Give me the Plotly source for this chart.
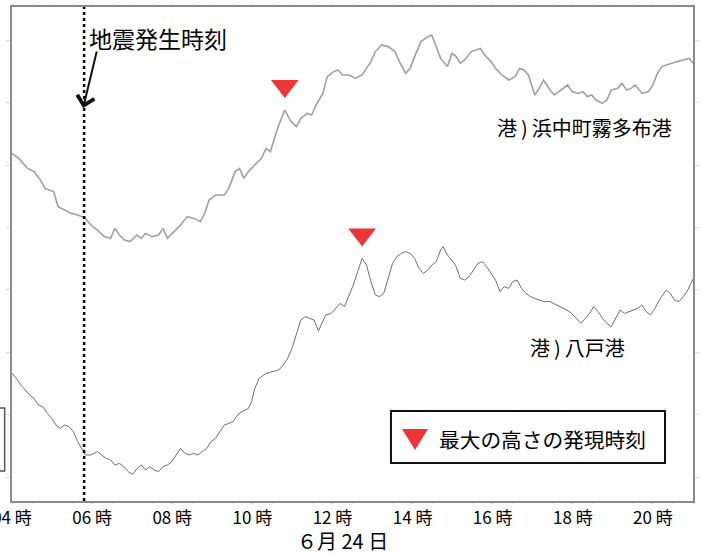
import numpy as np
import plotly.graph_objects as go

FONT = "Noto Sans CJK JP"

# Hours of 24 June (decimal) and tide level for each gauge
kiritappu_t = [4.00, 4.17, 4.39, 4.55, 4.71, 4.82, 4.93, 5.04, 5.15, 5.31,
               5.48, 5.64, 5.81, 5.97, 6.13, 6.30, 6.46, 6.57, 6.68, 6.81,
               6.95, 7.12, 7.23, 7.33, 7.50, 7.66, 7.77, 7.88, 8.04, 8.21,
               8.37, 8.54, 8.70, 8.81, 8.92, 9.08, 9.30, 9.41, 9.57, 9.68,
               9.79, 9.90, 10.06, 10.23, 10.34, 10.45, 10.55, 10.66, 10.81, 10.94,
               11.10, 11.21, 11.37, 11.48, 11.59, 11.76, 11.87, 12.03, 12.14, 12.25,
               12.41, 12.57, 12.74, 12.85, 12.96, 13.07, 13.23, 13.39, 13.56, 13.67,
               13.83, 13.94, 14.05, 14.21, 14.38, 14.48, 14.59, 14.70, 14.87, 14.98,
               15.09, 15.19, 15.30, 15.47, 15.69, 15.80, 15.96, 16.07, 16.23, 16.40,
               16.56, 16.67, 16.78, 16.89, 17.05, 17.16, 17.27, 17.43, 17.54, 17.71,
               17.87, 17.98, 18.14, 18.25, 18.36, 18.47, 18.58, 18.74, 18.85, 18.96,
               19.12, 19.23, 19.34, 19.45, 19.56, 19.73, 19.89, 20.00, 20.11, 20.22,
               20.43, 20.60, 20.76, 20.90, 21.00]
kiritappu_level = [173.8, 171.3, 166.3, 164.7, 160.5, 156.3, 155.5, 154.7, 147.2, 145.5,
                   143.8, 143.0, 141.7, 138.0, 135.5, 132.2, 131.3, 136.3, 133.0, 130.5,
                   129.7, 133.0, 131.3, 133.8, 132.2, 133.0, 136.3, 131.3, 134.7, 138.0,
                   142.2, 141.3, 139.7, 143.8, 150.5, 153.0, 153.0, 156.3, 164.7, 166.3,
                   161.3, 164.7, 168.0, 171.3, 176.3, 174.7, 181.3, 188.0, 195.5, 190.5,
                   187.2, 191.3, 193.8, 193.0, 198.0, 203.8, 212.2, 214.7, 215.5, 213.0,
                   213.0, 211.3, 213.0, 216.3, 219.7, 224.7, 228.0, 227.2, 224.7, 219.7,
                   213.8, 216.3, 222.2, 229.7, 232.2, 233.0, 227.2, 221.3, 217.2, 223.8,
                   222.2, 218.8, 220.5, 224.7, 226.3, 223.0, 219.7, 216.3, 213.0, 210.5,
                   212.2, 216.3, 215.5, 213.0, 203.0, 206.3, 210.5, 205.5, 203.0, 205.5,
                   208.0, 204.7, 203.8, 204.7, 202.2, 203.0, 200.5, 198.8, 200.5, 205.5,
                   206.3, 208.8, 205.5, 206.3, 208.0, 203.8, 204.7, 208.0, 213.8, 217.2,
                   218.8, 219.7, 220.5, 221.3, 219.0]

hachinohe_t = [4.00, 4.11, 4.22, 4.33, 4.44, 4.55, 4.66, 4.77, 4.88, 4.99,
               5.10, 5.21, 5.31, 5.42, 5.53, 5.64, 5.75, 5.83, 5.97, 6.13,
               6.24, 6.35, 6.46, 6.57, 6.68, 6.79, 6.90, 7.01, 7.12, 7.23,
               7.33, 7.44, 7.55, 7.66, 7.77, 7.88, 7.99, 8.10, 8.21, 8.32,
               8.43, 8.54, 8.64, 8.75, 8.86, 8.97, 9.08, 9.19, 9.30, 9.41,
               9.52, 9.63, 9.74, 9.90, 9.98, 10.06, 10.17, 10.34, 10.50, 10.66,
               10.77, 10.88, 10.99, 11.10, 11.21, 11.32, 11.43, 11.54, 11.65, 11.72,
               11.83, 11.97, 12.08, 12.19, 12.30, 12.41, 12.52, 12.63, 12.74, 12.85,
               12.96, 13.07, 13.17, 13.28, 13.39, 13.50, 13.61, 13.72, 13.83, 13.94,
               14.05, 14.16, 14.27, 14.38, 14.48, 14.59, 14.70, 14.76, 14.87, 14.98,
               15.09, 15.19, 15.30, 15.41, 15.52, 15.63, 15.74, 15.85, 15.96, 16.07,
               16.18, 16.29, 16.40, 16.50, 16.61, 16.72, 16.83, 16.94, 17.05, 17.16,
               17.27, 17.43, 17.60, 17.76, 17.92, 18.09, 18.20, 18.31, 18.42, 18.52,
               18.63, 18.74, 18.85, 18.96, 19.07, 19.18, 19.29, 19.40, 19.51, 19.62,
               19.72, 19.83, 19.94, 20.05, 20.16, 20.33, 20.43, 20.54, 20.65, 20.76,
               20.87, 20.98, 21.00]
hachinohe_level = [63.8, 61.3, 58.0, 55.5, 53.0, 51.3, 48.0, 47.2, 43.8, 41.3,
                   38.0, 36.3, 38.0, 37.2, 34.7, 29.7, 25.5, 23.0, 23.0, 24.7,
                   23.0, 21.3, 20.5, 18.0, 18.8, 17.2, 14.7, 13.3, 16.3, 18.0,
                   15.5, 17.2, 15.5, 14.7, 17.2, 18.0, 19.7, 23.0, 26.3, 23.8,
                   23.0, 23.8, 23.0, 24.7, 26.3, 29.7, 31.3, 34.7, 38.0, 38.8,
                   39.7, 43.0, 44.7, 46.3, 49.7, 56.3, 61.3, 63.8, 64.7, 65.5,
                   68.0, 71.3, 76.3, 83.0, 90.5, 92.2, 91.3, 90.5, 85.0, 88.0,
                   93.0, 93.8, 96.3, 98.8, 97.2, 102.2, 108.0, 114.7, 121.3, 118.0,
                   109.7, 103.0, 102.2, 103.8, 111.3, 118.8, 122.2, 123.8, 124.7, 123.8,
                   121.3, 116.3, 113.8, 115.5, 118.0, 119.7, 125.5, 127.2, 123.0, 120.5,
                   117.2, 111.3, 110.5, 112.2, 115.5, 118.8, 119.7, 117.2, 113.8, 110.5,
                   104.7, 107.2, 106.3, 109.7, 110.5, 106.3, 103.8, 102.2, 101.3, 100.5,
                   99.7, 99.7, 98.0, 96.3, 94.7, 91.3, 88.8, 91.3, 93.8, 97.2,
                   94.7, 91.3, 88.8, 87.2, 91.3, 95.5, 93.8, 94.7, 95.5, 96.3,
                   98.0, 94.7, 93.0, 96.3, 100.5, 105.5, 103.8, 100.5, 99.7, 102.2,
                   105.5, 109.7, 111.0]

# Time of the maximum tsunami height at each gauge
peak_times = [10.81, 12.74]
quake_time = 5.80

tick_hours = [4, 6, 8, 10, 12, 14, 16, 18, 20]
tick_text = ["04 時", "06 時", "08 時", "10 時", "12 時", "14 時", "16 時", "18 時", "20 時"]
date_label = "６月 24 日"

station_names = ["港\u2009)\u2009浜中町霧多布港", "港\u2009)\u2009八戸港"]
legend_text = "最大の高さの発現時刻"
quake_text = "地震発生時刻"

RED = "#ee3535"
MARK_GAP = 12  # distance of the ▼ above the curve

fig = go.Figure()

fig.add_trace(go.Scatter(x=kiritappu_t, y=kiritappu_level, mode="lines",
                         line=dict(color="#a0a0a0", width=1.6),
                         hoverinfo="skip", showlegend=False))
fig.add_trace(go.Scatter(x=hachinohe_t, y=hachinohe_level, mode="lines",
                         line=dict(color="#6e6e6e", width=1.0),
                         hoverinfo="skip", showlegend=False))

# ▼ above each curve at the time of maximum height
series = [(kiritappu_t, kiritappu_level), (hachinohe_t, hachinohe_level)]
mark_y = [float(np.interp(pt, t, v)) + MARK_GAP for pt, (t, v) in zip(peak_times, series)]
fig.add_trace(go.Scatter(x=peak_times, y=mark_y, mode="markers",
                         marker=dict(symbol="triangle-down", size=24, color=RED,
                                     line=dict(width=0)),
                         hoverinfo="skip", showlegend=False))

# earthquake time: dotted vertical line
fig.add_shape(type="line", xref="x", yref="paper", x0=quake_time, x1=quake_time,
              y0=0, y1=1, line=dict(color="black", width=2.5, dash="dot"))

fig.add_annotation(x=5.88, y=231.5, xref="x", yref="y", text=quake_text,
                   showarrow=False, xanchor="left", yanchor="middle",
                   font=dict(family=FONT, size=23, color="black"))
fig.add_annotation(x=5.775, y=196.5, xref="x", yref="y", text="",
                   showarrow=True, ax=14, ay=-58, arrowhead=4, arrowsize=1.7,
                   arrowwidth=2, arrowcolor="#111111")

# station labels
fig.add_annotation(x=20.53, y=187, xref="x", yref="y", text=station_names[0],
                   showarrow=False, xanchor="right", yanchor="middle",
                   font=dict(family=FONT, size=20, color="black"))
fig.add_annotation(x=19.35, y=77, xref="x", yref="y", text=station_names[1],
                   showarrow=False, xanchor="right", yanchor="middle",
                   font=dict(family=FONT, size=20, color="black"))

# legend box
fig.add_shape(type="rect", xref="paper", yref="paper",
              x0=0.5565, x1=0.9589, y0=0.0769, y1=0.1822,
              line=dict(color="#111111", width=2), fillcolor="white", layer="above")
fig.add_shape(type="path", xref="paper", yref="paper",
              path="M 0.5727,0.1457 L 0.6109,0.1457 L 0.5918,0.1032 Z",
              fillcolor=RED, line=dict(width=0), layer="above")
fig.add_annotation(x=0.6241, y=0.1265, xref="paper", yref="paper", text=legend_text,
                   showarrow=False, xanchor="left", yanchor="middle",
                   font=dict(family=FONT, size=20.7, color="black"))

# box edge peeking in from the left margin
fig.add_shape(type="rect", xref="paper", yref="paper",
              x0=-0.06, x1=-0.0108, y0=0.0607, y1=0.1883,
              line=dict(color="#555555", width=1.5))

# date under the time axis
fig.add_annotation(x=0.4846, y=-0.079, xref="paper", yref="paper", text=date_label,
                   showarrow=False, xanchor="center", yanchor="middle",
                   font=dict(family=FONT, size=20, color="black"))

fig.update_layout(
    width=701, height=554,
    margin=dict(l=12, r=8, t=7, b=53, autoexpand=False),
    paper_bgcolor="white", plot_bgcolor="white",
    font=dict(family=FONT, color="black"),
)
fig.update_xaxes(range=[4, 21], tickvals=tick_hours, ticktext=tick_text,
                 tickfont=dict(family=FONT, size=17, color="black"),
                 ticklabeloverflow="allow", automargin=False,
                 showgrid=False, zeroline=False,
                 showline=True, linecolor="#8a8a8a", linewidth=2, mirror="ticks",
                 ticks="outside", ticklen=1, tickcolor="#c8c8c8",
                 minor=dict(dtick=0.5, ticks="outside", ticklen=1, tickcolor="#dddddd"))
fig.update_yaxes(range=[0, 247], tick0=12, dtick=31.2, showticklabels=False,
                 automargin=False,
                 showgrid=False, zeroline=False,
                 showline=True, linecolor="#8a8a8a", linewidth=2, mirror="ticks",
                 ticks="outside", ticklen=4, tickcolor="#dddddd")

fig.write_html("out.html")
